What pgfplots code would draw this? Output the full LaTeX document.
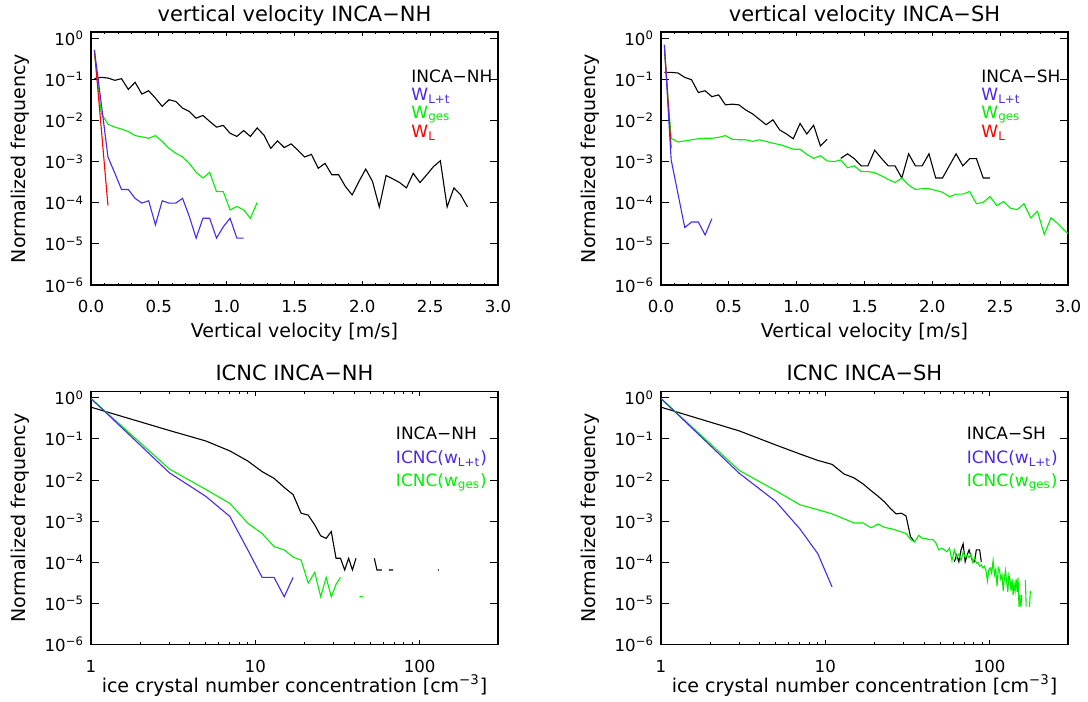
\documentclass[border=0pt]{standalone}
\usepackage{fontspec}
\setmainfont{DejaVu Sans}
\usepackage{pgfplots}
\pgfplotsset{compat=1.18}
\definecolor{wblue}{RGB}{75,40,235}
\definecolor{wgreen}{RGB}{0,240,0}
\definecolor{wred}{RGB}{255,0,0}
\newcommand{\ticksz}{\fontsize{8.3}{9}\selectfont}
\newcommand{\legsz}{\fontsize{8.5}{10}\selectfont}
\pgfplotsset{
  mybase/.style={scale only axis, width=203.5pt, height=126.5pt, anchor=north west,
    ymin=1e-6, ymax=1.42, ytick={1e-6,1e-5,1e-4,1e-3,1e-2,1e-1,1},
    yticklabels={10\textsuperscript{−6},10\textsuperscript{−5},10\textsuperscript{−4},
      10\textsuperscript{−3},10\textsuperscript{−2},10\textsuperscript{−1},10\textsuperscript{0}},
    yminorticks=false, tick align=inside, major tick length=4pt, minor tick length=1.2pt,
    major x tick style={/pgfplots/major tick length=2.2pt},
    axis line style={line width=0.8pt}, every tick/.append style={black, line width=0.5pt},
    tick label style={font=\ticksz},
    xticklabel style={anchor=base, yshift=-13.75pt},
    ylabel={Normalized frequency},
    ylabel style={at={(axis description cs:-0.16,0.5)}, anchor=base},
    label style={font=\fontsize{9.5}{11}\selectfont},
    every axis title shift=0pt,
    title style={font=\fontsize{10.5}{12}\selectfont, at={(axis description cs:0.5,1.043)}, anchor=base},
    every axis plot/.append style={line width=0.55pt, no marks},
    unbounded coords=jump},
  myvv/.style={mybase, xmin=0, xmax=3, xtick={0,0.5,...,3},
    xticklabels={0.0,0.5,1.0,1.5,2.0,2.5,3.0}, minor x tick num=4,
    xlabel={Vertical velocity [m/s]},
    xlabel style={at={(axis description cs:0.5,-0.209)}, anchor=base}},
  myicnc/.style={mybase, xmin=1, xmax=300, xtick={1,10,100},
    xticklabels={1,10,100},
    xlabel={ice crystal number concentration [cm\textsuperscript{−3}]},
    xlabel style={at={(axis description cs:0.5,-0.19)}, anchor=base}},
}
\begin{document}
\begin{tikzpicture}
\path[use as bounding box] (0,0) rectangle (544pt,-351pt);

% vertical velocity, NH
\begin{axis}[ymode=log, myvv, at={(45.5pt,-16pt)}, title={vertical velocity INCA−NH}]
\addplot[black] coordinates {(0.025,0.105)(0.075,0.112)(0.125,0.108)(0.175,0.095)
  (0.225,0.104)(0.275,0.057)(0.325,0.085)(0.375,0.044)(0.425,0.053)(0.475,0.035)
  (0.525,0.022)(0.575,0.032)(0.625,0.029)(0.675,0.020)(0.725,0.0166)(0.775,0.0114)
  (0.825,0.0133)(0.875,0.0095)(0.925,0.0069)(0.975,0.0076)(1.025,0.0049)(1.075,0.0041)
  (1.125,0.0057)(1.175,0.0041)(1.225,0.0066)(1.275,0.0044)(1.325,0.0021)(1.375,0.0032)
  (1.425,0.0022)(1.475,0.0027)(1.525,0.0019)(1.575,0.0013)(1.625,0.0015)(1.675,0.00069)
  (1.725,0.00091)(1.775,0.00048)(1.825,0.00048)(1.875,0.00025)(1.925,0.000155)
  (1.975,0.00033)(2.025,0.00066)(2.075,0.00033)(2.125,0.000079)(2.175,0.00046)
  (2.225,0.00038)(2.275,0.00031)(2.325,0.00023)(2.375,0.00052)(2.425,0.00031)
  (2.475,0.00048)(2.525,0.00076)(2.575,0.00105)(2.625,0.000079)(2.675,0.00023)
  (2.725,0.000155)(2.775,0.000079)};
\addplot[wgreen] coordinates {(0.025,0.45)(0.075,0.015)(0.125,0.0081)(0.175,0.0069)
  (0.225,0.0062)(0.275,0.0054)(0.325,0.0043)(0.375,0.0040)(0.425,0.0037)(0.475,0.0043)
  (0.525,0.0031)(0.575,0.0021)(0.625,0.0016)(0.675,0.0013)(0.725,0.0009)(0.775,0.00055)
  (0.825,0.00040)(0.875,0.00055)(0.925,0.000187)(0.975,0.000187)(1.025,0.000067)
  (1.075,0.000081)(1.125,0.000067)(1.175,0.000042)(1.225,0.000102)};
\addplot[wred] coordinates {(0.025,0.52)(0.075,0.0068)(0.125,0.000085)};
\addplot[wblue] coordinates {(0.025,0.52)(0.075,0.027)(0.125,0.0013)(0.175,0.00053)
  (0.225,0.00021)(0.275,0.00021)(0.325,0.000128)(0.375,0.000098)(0.425,0.000112)
  (0.475,0.000029)(0.525,0.000112)(0.575,0.000098)(0.625,0.000098)(0.675,0.000128)
  (0.725,0.000046)(0.775,0.0000138)(0.825,0.000042)(0.875,0.000042)(0.925,0.0000138)
  (0.975,0.000026)(1.025,0.000042)(1.075,0.0000138)(1.125,0.0000138)};
\node[anchor=base west, font=\legsz] at (rel axis cs:0.77,0.802) {INCA−NH};
\node[anchor=base west, font=\legsz, text=wblue] at (rel axis cs:0.77,0.731) {W\textsubscript{L+t}};
\node[anchor=base west, font=\legsz, text=wgreen] at (rel axis cs:0.77,0.660) {W\textsubscript{ges}};
\node[anchor=base west, font=\legsz, text=wred] at (rel axis cs:0.77,0.585) {W\textsubscript{L}};
\end{axis}

% vertical velocity, SH
\begin{axis}[ymode=log, myvv, at={(330.5pt,-16pt)}, title={vertical velocity INCA−SH}]
\addplot[black] coordinates {(0.025,0.148)(0.075,0.148)(0.125,0.143)(0.175,0.112)
  (0.225,0.098)(0.275,0.048)(0.325,0.053)(0.375,0.038)(0.425,0.042)(0.475,0.024)
  (0.525,0.025)(0.575,0.024)(0.625,0.018)(0.675,0.0145)(0.725,0.0107)(0.775,0.0079)
  (0.825,0.0104)(0.875,0.0059)(0.925,0.0047)(0.975,0.0036)(1.025,0.0085)(1.075,0.0047)
  (1.125,0.0077)(1.175,0.0024)(1.225,0.0035)(1.275,nan)(1.325,0.0012)(1.375,0.00155)
  (1.425,0.00118)(1.475,0.00079)(1.525,0.00079)(1.575,0.0019)(1.625,0.0012)
  (1.675,0.00079)(1.725,0.00079)(1.775,0.0004)(1.825,0.00155)(1.875,0.00079)
  (1.925,0.00079)(1.975,0.00155)(2.025,0.0004)(2.075,0.0004)(2.125,0.00079)
  (2.175,0.00155)(2.225,0.00079)(2.275,0.00118)(2.325,0.00118)(2.375,0.0004)
  (2.425,0.0004)};
\addplot[wgreen] coordinates {(0.025,0.5)(0.075,0.0037)(0.125,0.0030)(0.175,0.0032)
  (0.225,0.0034)(0.275,0.0036)(0.325,0.0037)(0.375,0.0037)(0.425,0.0039)(0.475,0.0043)
  (0.525,0.0035)(0.575,0.0034)(0.625,0.0034)(0.675,0.0031)(0.725,0.0034)(0.775,0.0031)
  (0.825,0.0028)(0.875,0.0026)(0.925,0.0023)(0.975,0.0020)(1.025,0.0020)(1.075,0.0015)
  (1.125,0.0012)(1.175,0.0014)(1.225,0.00104)(1.275,0.0010)(1.325,0.0011)
  (1.375,0.00071)(1.425,0.00079)(1.475,0.00057)(1.525,0.00057)(1.575,0.00054)
  (1.625,0.00045)(1.675,0.00037)(1.725,0.00031)(1.775,0.00040)(1.825,0.00027)
  (1.875,0.00021)(1.925,0.00022)(1.975,0.00022)(2.025,0.00020)(2.075,0.00018)
  (2.125,0.00014)(2.175,0.000162)(2.225,0.000162)(2.275,0.000188)(2.325,0.000095)
  (2.375,0.000102)(2.425,0.000142)(2.475,0.000085)(2.525,0.000107)(2.575,0.000074)
  (2.625,0.000068)(2.675,0.000095)(2.725,0.000043)(2.775,0.000062)(2.825,0.000017)
  (2.875,0.000043)(2.925,0.000031)(2.975,0.000021)(3.025,0.000015)};
\addplot[wred] coordinates {(0.025,0.69)(0.075,0.0021)};
\addplot[wblue] coordinates {(0.025,0.69)(0.075,0.0011)(0.125,0.000166)(0.175,0.000025)
  (0.225,0.000034)(0.275,0.000034)(0.325,0.0000165)(0.375,0.000041)};
\node[anchor=base west, font=\legsz] at (rel axis cs:0.77,0.802) {INCA−SH};
\node[anchor=base west, font=\legsz, text=wblue] at (rel axis cs:0.77,0.731) {W\textsubscript{L+t}};
\node[anchor=base west, font=\legsz, text=wgreen] at (rel axis cs:0.77,0.660) {W\textsubscript{ges}};
\node[anchor=base west, font=\legsz, text=wred] at (rel axis cs:0.77,0.585) {W\textsubscript{L}};
\end{axis}

% ICNC, NH
\begin{axis}[xmode=log, ymode=log, myicnc, at={(45.5pt,-195.75pt)}, title={ICNC INCA−NH}]
\addplot[black] coordinates {(1,0.59)(3,0.16)(5,0.089)(7,0.051)(9,0.029)(11,0.016)
  (13,0.011)(15,0.0066)(17,0.0044)(19,0.00156)(21,0.0014)(23,0.00081)(25,0.00044)
  (27,0.00038)(29,0.00056)(31,0.000125)(33,0.000125)(35,0.000065)(37,0.000125)
  (39,0.000065)(41,0.000125)(43,nan)(53,0.000125)(55,0.000065)(57,0.000065)
  (59,0.000065)(61,nan)(65,0.000065)(67,0.000065)(69,0.000065)(71,nan)
  (129,0.000065)(131,0.000065)};
\addplot[wgreen] coordinates {(1,0.96)(3,0.0185)(5,0.0059)(7,0.0027)(9,0.00089)
  (11,0.00050)(13,0.00024)(15,0.00020)(17,0.000133)(19,0.000113)(21,0.000031)
  (23,0.000057)(25,0.0000145)(27,0.000043)(29,0.0000145)(31,0.000029)(33,0.000043)
  (35,nan)(43,0.0000145)(45,0.0000145)};
\addplot[wblue] coordinates {(1,0.96)(3,0.015)(5,0.0040)(7,0.0013)(9,0.0002)
  (11,0.000043)(13,0.000043)(15,0.0000145)(17,0.000043)};
\node[anchor=base west, font=\legsz] at (rel axis cs:0.732,0.81) {INCA−NH};
\node[anchor=base west, font=\legsz, text=wblue] at (rel axis cs:0.732,0.717) {ICNC(w\textsubscript{L+t})};
\node[anchor=base west, font=\legsz, text=wgreen] at (rel axis cs:0.732,0.626) {ICNC(w\textsubscript{ges})};
\end{axis}

% ICNC, SH
\begin{axis}[xmode=log, ymode=log, myicnc, at={(330.5pt,-195.75pt)}, title={ICNC INCA−SH}]
\addplot[black] coordinates {(1,0.59)(3,0.156)(5,0.071)(7,0.043)(9,0.030)(11,0.024)
  (13,0.014)(15,0.0112)(17,0.0080)(19,0.0055)(21,0.0040)(23,0.0029)(25,0.0020)
  (27,0.00150)(29,0.00156)(31,0.00134)(33,0.00042)(35,0.00031)(37,nan)
  (61,0.000103)(63,0.00015)(65,0.000103)(67,0.0002)(69,0.00028)(71,0.000103)
  (73,0.00015)(75,0.0002)(77,0.00014)(79,0.000103)(81,0.000103)(83,0.0002)
  (85,0.0002)(87,0.0002)(89,0.000103)};
\addplot[wgreen] coordinates {(1,0.96)(3,0.017)(5,0.0055)(7,0.0025)(9,0.0019)
  (11,0.0015)(13,0.00114)(15,0.00090)(17,0.00090)(19,0.00069)(21,0.00085)(23,0.00070)
  (25,0.00066)(27,0.00060)(29,0.00055)(31,0.00050)(33,0.00036)(35,0.00031)(37,0.00045)
  (39,0.00038)(41,0.00038)(43,0.00035)(45,0.00036)(47,0.00030)(49,0.00020)(51,0.00022)
  (53,0.00020)(55,0.00018)(57,0.00022)(59,0.00011)(61,0.00020)(63,0.00013)(65,0.00016)
  (67,0.00011)(69,0.00018)(71,0.00013)(73,0.00015)(75,0.00013)(77,0.00016)(79,0.00010)
  (81,0.00013)(83,0.000095)(85,0.00010)(87,0.00008)(89,0.000086)(91,0.000073)
  (93,0.00008)(95,0.000063)(97,0.000035)(99,0.000067)(101,0.000073)(103,0.000054)
  (105,0.00011)(107,0.000049)(109,0.000067)(111,0.000026)(113,0.000073)(115,0.000063)
  (117,0.000039)(119,0.000049)(121,0.00002)(123,0.000042)(125,0.000063)(127,0.000033)
  (129,0.000019)(131,0.000049)(133,0.000039)(135,0.00002)(137,0.000039)(139,0.000016)
  (141,0.000029)(143,0.00002)(145,0.000039)(147,0.000019)(149,0.000042)(151,0.0000082)
  (153,0.000016)(155,0.0000082)(157,0.000016)(159,nan)(165,0.000037)(167,0.0000085)
  (169,nan)(175,0.0000082)(177,0.00002)};
\addplot[wblue] coordinates {(1,0.96)(3,0.0145)(5,0.0030)(7,0.00065)(9,0.000162)
  (11,0.000025)};
\node[anchor=base west, font=\legsz] at (rel axis cs:0.734,0.81) {INCA−SH};
\node[anchor=base west, font=\legsz, text=wblue] at (rel axis cs:0.734,0.717) {ICNC(w\textsubscript{L+t})};
\node[anchor=base west, font=\legsz, text=wgreen] at (rel axis cs:0.734,0.626) {ICNC(w\textsubscript{ges})};
\end{axis}
\end{tikzpicture}
\end{document}
